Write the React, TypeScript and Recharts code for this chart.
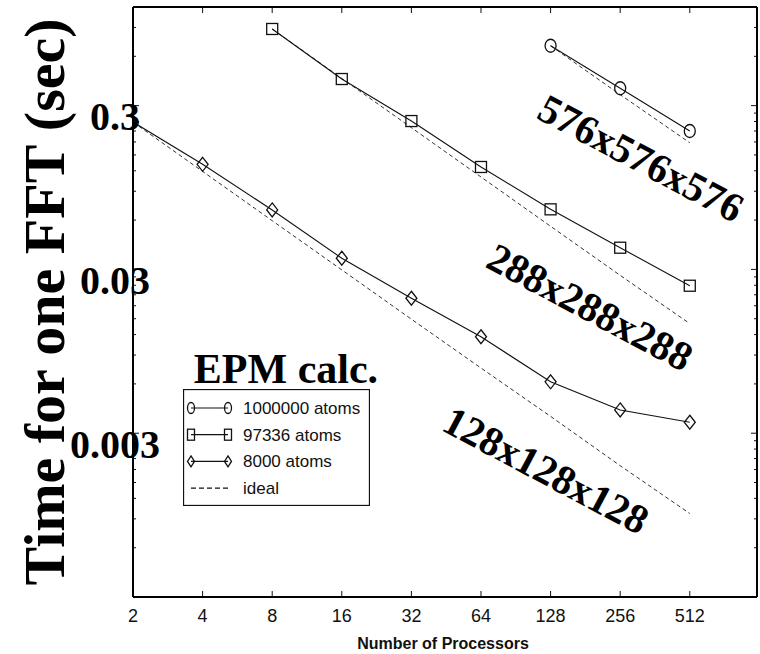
import React from "react";
import { LineChart, Line, XAxis, YAxis, Legend } from "recharts";

const W = 760;
const H = 654;
const PLOT_L = 133;
const PLOT_R = 757;
const PLOT_T = 7;
const PLOT_B = 597;
const AX = 1; // thickness reserved for each axis

const SERIF = "'Liberation Serif', 'Times New Roman', serif";
const SANS = "'Liberation Sans', Arial, sans-serif";
const INK = "#111111";

// x axis: number of processors (log2)
const PROC_TICKS = [2, 4, 8, 16, 32, 64, 128, 256, 512];
const X_DOMAIN = [2, 1000];

// y axis: time (log10)
const Y_DOMAIN = [0.0003, 1.2];
const Y_MAJOR = [0.003, 0.03, 0.3];
const Y_MAJOR_LABELS = ["0.003", "0.03", "0.3"];
const Y_MINOR = [
  0.0006, 0.0009, 0.0012, 0.0015, 0.0018, 0.0021, 0.0024, 0.0027,
  0.006, 0.009, 0.012, 0.015, 0.018, 0.021, 0.024, 0.027,
  0.06, 0.09, 0.12, 0.15, 0.18, 0.21, 0.24, 0.27,
  0.6, 0.9,
];

// 8000 atoms, 128x128x128 grid
const procs8000 = [2, 4, 8, 16, 32, 64, 128, 256, 512];
const time8000 = [0.238, 0.1315, 0.0692, 0.0351, 0.02, 0.01164, 0.00618, 0.00416, 0.0035];
const ideal8000 = [0.238, 0.119, 0.0595, 0.0298, 0.0149, 0.0075, 0.0038, 0.0019, 0.00097];

// 97336 atoms, 288x288x288 grid
const procs97336 = [8, 16, 32, 64, 128, 256, 512];
const time97336 = [0.881, 0.436, 0.2415, 0.1266, 0.0698, 0.0407, 0.02385];
const ideal97336 = [0.881, 0.44, 0.22, 0.11, 0.055, 0.0276, 0.014];

// 1000000 atoms, 576x576x576 grid
const procs1M = [128, 256, 512];
const time1M = [0.696, 0.383, 0.21];
const ideal1M = [0.696, 0.35, 0.178];

const SERIES_NAMES = ["1000000 atoms", "97336 atoms", "8000 atoms", "ideal"];
const GRID_LABELS = ["576x576x576", "288x288x288", "128x128x128"];

const toPoints = (xs: number[], ys: number[]) => xs.map((p, i) => ({ p, t: ys[i] }));

type Shape = "circle" | "square" | "diamond";

function Marker({ shape, cx, cy, w, h }: { shape: Shape; cx: number; cy: number; w: number; h: number }) {
  const common = { fill: "none", stroke: INK, strokeWidth: 1.3 };
  if (shape === "circle") return <ellipse cx={cx} cy={cy} rx={w / 2} ry={h / 2} {...common} />;
  if (shape === "square") return <rect x={cx - w / 2} y={cy - h / 2} width={w} height={h} {...common} />;
  return (
    <polygon
      points={`${cx},${cy - h / 2} ${cx + w / 2},${cy} ${cx},${cy + h / 2} ${cx - w / 2},${cy}`}
      {...common}
    />
  );
}

const dotFor = (shape: Shape, w: number, h: number) => (props: any) => (
  <Marker key={`${shape}-${props.index}`} shape={shape} cx={props.cx} cy={props.cy} w={w} h={h} />
);

const LeftTick = (props: any) => {
  const { y, payload } = props;
  const i = Y_MAJOR.indexOf(payload.value);
  return (
    <g>
      <line x1={PLOT_L} x2={PLOT_L + (i >= 0 ? 6 : 3)} y1={y} y2={y} stroke={INK} />
      {i >= 0 && (
        <text
          x={115}
          y={y + 11}
          textAnchor="middle"
          dominantBaseline="central"
          fontFamily={SERIF}
          fontWeight="bold"
          fontSize={40}
          fill="#000"
        >
          {Y_MAJOR_LABELS[i]}
        </text>
      )}
    </g>
  );
};

const RightTick = (props: any) => {
  const { y, payload } = props;
  const major = Y_MAJOR.includes(payload.value);
  return <line x1={PLOT_R} x2={PLOT_R - (major ? 6 : 3)} y1={y} y2={y} stroke={INK} />;
};

const BottomTick = (props: any) => {
  const { x, payload } = props;
  return (
    <g>
      <line x1={x} x2={x} y1={PLOT_B} y2={PLOT_B - 6} stroke={INK} />
      <text x={x} y={622} textAnchor="middle" fontFamily={SANS} fontSize={18} fill="#111">
        {payload.value}
      </text>
    </g>
  );
};

const TopTick = (props: any) => {
  const { x } = props;
  return <line x1={x} x2={x} y1={PLOT_T} y2={PLOT_T + 6} stroke={INK} />;
};

const LegendBox = () => {
  const shapes: (Shape | null)[] = ["circle", "square", "diamond", null];
  return (
    <svg width={187} height={117} style={{ display: "block" }}>
      <rect x={0.5} y={0.5} width={186} height={116} fill="#fff" stroke={INK} strokeWidth={1.3} />
      {SERIES_NAMES.map((name, i) => {
        const cy = 19 + i * 26.7;
        const shape = shapes[i];
        return (
          <g key={name}>
            <line
              x1={8}
              x2={45}
              y1={cy}
              y2={cy}
              stroke={INK}
              strokeWidth={1.2}
              strokeDasharray={shape ? undefined : "5 3"}
            />
            {shape && <Marker shape={shape} cx={8} cy={cy} w={7} h={11} />}
            {shape && <Marker shape={shape} cx={45} cy={cy} w={7} h={11} />}
            <text x={60} y={cy + 6} fontFamily={SANS} fontSize={17} fill="#111">
              {name}
            </text>
          </g>
        );
      })}
    </svg>
  );
};

export default function App() {
  const solid = { stroke: INK, strokeWidth: 1.1, isAnimationActive: false, activeDot: false as const };
  const dashed = { stroke: "#333", strokeWidth: 1, strokeDasharray: "4 3", dot: false, isAnimationActive: false, activeDot: false as const };
  const frame = { stroke: "#000", strokeWidth: 2 };
  return (
    <div style={{ position: "absolute", left: 0, top: 0, width: W, height: H, background: "#fff" }}>
      <LineChart
        width={W}
        height={H}
        margin={{ top: PLOT_T - AX, right: W - PLOT_R - AX, bottom: H - PLOT_B - AX, left: PLOT_L - AX }}
      >
        <XAxis
          xAxisId="b"
          dataKey="p"
          type="number"
          scale="log"
          domain={X_DOMAIN}
          allowDataOverflow
          ticks={PROC_TICKS}
          interval={0}
          height={AX}
          tickLine={false}
          axisLine={false}
          tick={<BottomTick />}
        />
        <XAxis
          xAxisId="t"
          orientation="top"
          dataKey="p"
          type="number"
          scale="log"
          domain={X_DOMAIN}
          allowDataOverflow
          ticks={PROC_TICKS}
          interval={0}
          height={AX}
          tickLine={false}
          axisLine={false}
          tick={<TopTick />}
        />
        <YAxis
          yAxisId="l"
          type="number"
          scale="log"
          domain={Y_DOMAIN}
          allowDataOverflow
          ticks={[...Y_MAJOR, ...Y_MINOR]}
          interval={0}
          width={AX}
          tickLine={false}
          axisLine={false}
          tick={<LeftTick />}
        />
        <YAxis
          yAxisId="r"
          orientation="right"
          type="number"
          scale="log"
          domain={Y_DOMAIN}
          allowDataOverflow
          ticks={[...Y_MAJOR, ...Y_MINOR]}
          interval={0}
          width={AX}
          tickLine={false}
          axisLine={false}
          tick={<RightTick />}
        />

        <Line xAxisId="b" yAxisId="l" data={toPoints(procs8000, ideal8000)} dataKey="t" {...dashed} />
        <Line xAxisId="b" yAxisId="l" data={toPoints(procs97336, ideal97336)} dataKey="t" {...dashed} />
        <Line xAxisId="b" yAxisId="l" data={toPoints(procs1M, ideal1M)} dataKey="t" {...dashed} />

        <Line xAxisId="b" yAxisId="l" data={toPoints(procs8000, time8000)} dataKey="t" {...solid} dot={dotFor("diamond", 11, 14)} />
        <Line xAxisId="b" yAxisId="l" data={toPoints(procs97336, time97336)} dataKey="t" {...solid} dot={dotFor("square", 11, 11)} />
        <Line xAxisId="b" yAxisId="l" data={toPoints(procs1M, time1M)} dataKey="t" {...solid} dot={dotFor("circle", 11, 13)} />

        <Legend
          layout="vertical"
          align="center"
          verticalAlign="middle"
          content={() => <LegendBox />}
          wrapperStyle={{ left: 183, top: 389, width: 187, height: 117 }}
        />
      </LineChart>

      <svg
        width={W}
        height={H}
        style={{ position: "absolute", left: 0, top: 0, pointerEvents: "none" }}
      >
        {/* plot frame */}
        <line x1={PLOT_L} y1={PLOT_T} x2={PLOT_R} y2={PLOT_T} {...frame} />
        <line x1={PLOT_L} y1={PLOT_B} x2={PLOT_R} y2={PLOT_B} {...frame} />
        <line x1={PLOT_L} y1={PLOT_T} x2={PLOT_L} y2={PLOT_B} {...frame} />
        <line x1={PLOT_R} y1={PLOT_T} x2={PLOT_R} y2={PLOT_B} {...frame} />
        <text
          transform="translate(64,302) rotate(-90)"
          textAnchor="middle"
          fontFamily={SERIF}
          fontWeight="bold"
          fontSize={58}
          fill="#000"
        >
          Time for one FFT (sec)
        </text>
        <text x={286} y={383} textAnchor="middle" fontFamily={SERIF} fontWeight="bold" fontSize={42} fill="#000">
          EPM calc.
        </text>
        <text x={443} y={649} textAnchor="middle" fontFamily={SANS} fontWeight="bold" fontSize={16} fill="#111">
          Number of Processors
        </text>
        {GRID_LABELS.map((label, i) => {
          const pos = [
            [641, 158],
            [590, 307],
            [546, 470],
          ][i];
          return (
            <text
              key={label}
              transform={`translate(${pos[0]},${pos[1]}) rotate(28)`}
              textAnchor="middle"
              dominantBaseline="central"
              fontFamily={SERIF}
              fontWeight="bold"
              fontSize={41}
              fill="#000"
            >
              {label}
            </text>
          );
        })}
      </svg>
    </div>
  );
}
